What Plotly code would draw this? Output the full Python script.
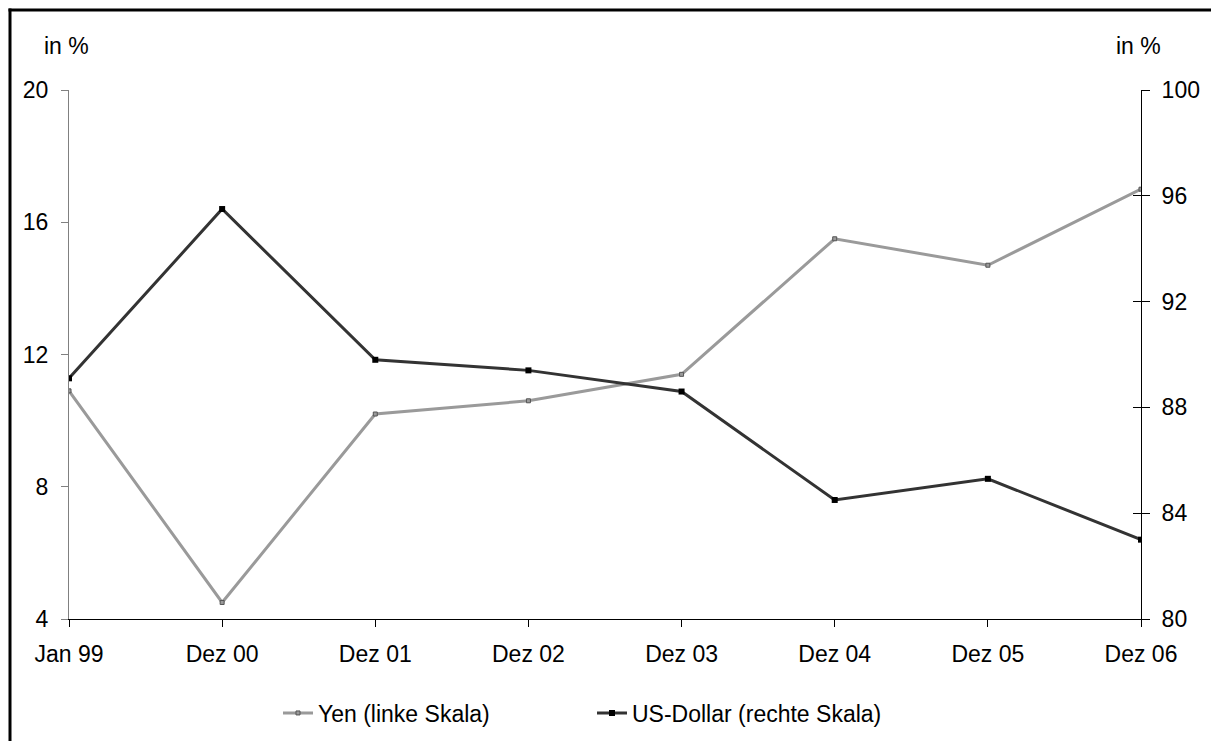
import plotly.graph_objects as go

# Stichtage
perioden = ["Jan 99", "Dez 00", "Dez 01", "Dez 02", "Dez 03", "Dez 04", "Dez 05", "Dez 06"]

# Anteile in %
yen = [10.9, 4.5, 10.2, 10.6, 11.4, 15.5, 14.7, 17.0]          # linke Skala
us_dollar = [89.1, 95.5, 89.8, 89.4, 88.6, 84.5, 85.3, 83.0]   # rechte Skala

links_ticks = [4, 8, 12, 16, 20]
rechts_ticks = [80, 84, 88, 92, 96, 100]

FONT = "Liberation Sans, Arial, sans-serif"
FS = 23
W, H = 1211, 741
L, R, T, B = 69, 70, 90, 122

fig = go.Figure()

fig.add_trace(go.Scatter(
    x=perioden, y=yen, name="Yen (linke Skala)", mode="lines+markers",
    line=dict(color="#9a9a9a", width=3),
    marker=dict(symbol="square", size=4, color="#9a9a9a",
                line=dict(color="#555555", width=1)),
    yaxis="y",
))
fig.add_trace(go.Scatter(
    x=perioden, y=us_dollar, name="US-Dollar (rechte Skala)", mode="lines+markers",
    line=dict(color="#333333", width=3),
    marker=dict(symbol="square", size=6, color="#000000"),
    yaxis="y2",
))

# inner half of the crossing ticks on the right axis
fig.add_trace(go.Scatter(x=[perioden[0]], y=[None], yaxis="y3",
                         showlegend=False, hoverinfo="skip"))

pw = W - L - R
ph = H - T - B


def px_x(p):
    return (p - L) / pw


def px_y(p):
    return (H - B - p) / ph


fig.update_layout(
    width=W, height=H,
    margin=dict(l=L, r=R, t=T, b=B, autoexpand=False),
    paper_bgcolor="white", plot_bgcolor="white",
    font=dict(family=FONT, size=FS, color="black"),
    showlegend=True,
    legend=dict(orientation="h", x=px_x(278), xanchor="left",
                y=px_y(713), yanchor="middle",
                font=dict(family=FONT, size=FS, color="black"),
                entrywidth=269, bgcolor="rgba(0,0,0,0)"),
    xaxis=dict(
        type="category", range=[0, len(perioden) - 1],
        showgrid=False, zeroline=False,
        showline=True, linecolor="black", linewidth=1,
        ticks="outside", ticklen=7, tickcolor="black",
        ticklabelstandoff=7,
        tickfont=dict(family=FONT, size=FS, color="black"),
    ),
    yaxis=dict(
        range=[4, 20], tickvals=links_ticks,
        showgrid=False, zeroline=False,
        showline=True, linecolor="#808080", linewidth=1,
        ticks="outside", ticklen=7, tickcolor="#808080",
        ticklabelstandoff=8,
        tickfont=dict(family=FONT, size=FS, color="black"),
    ),
    yaxis2=dict(
        range=[80, 100], tickvals=rechts_ticks,
        overlaying="y", side="right",
        showgrid=False, zeroline=False,
        showline=True, linecolor="black", linewidth=1,
        ticks="outside", ticklen=8, tickcolor="black",
        ticklabelstandoff=7,
        tickfont=dict(family=FONT, size=FS, color="black"),
    ),
    yaxis3=dict(
        range=[80, 100], tickvals=rechts_ticks,
        overlaying="y", side="right",
        showgrid=False, zeroline=False, showline=False,
        ticks="inside", ticklen=8, tickcolor="black",
        showticklabels=False,
    ),
    annotations=[
        dict(text="in %", xref="paper", yref="paper",
             x=px_x(42), y=px_y(46), xanchor="left", yanchor="middle",
             showarrow=False, font=dict(family=FONT, size=FS, color="black")),
        dict(text="in %", xref="paper", yref="paper",
             x=px_x(1114), y=px_y(46), xanchor="left", yanchor="middle",
             showarrow=False, font=dict(family=FONT, size=FS, color="black")),
    ],
    shapes=[
        # frame: top and left edges
        dict(type="line", xref="paper", yref="paper",
             x0=px_x(8.5), x1=px_x(W), y0=px_y(10), y1=px_y(10),
             line=dict(color="black", width=3), layer="below"),
        dict(type="line", xref="paper", yref="paper",
             x0=px_x(10), x1=px_x(10), y0=px_y(8.5), y1=px_y(H),
             line=dict(color="black", width=3), layer="below"),
    ],
)

fig.write_html("out.html")
